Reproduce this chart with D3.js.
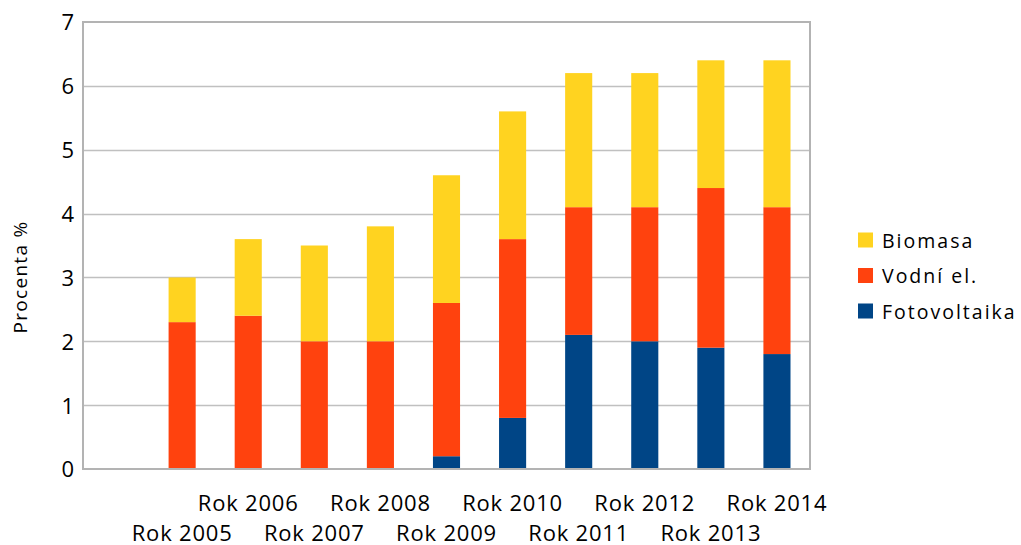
<!DOCTYPE html>
<html><head><meta charset="utf-8">
<script src="https://cdn.jsdelivr.net/npm/d3@7"></script>
<style>
html,body{margin:0;padding:0;background:#fff;}
text{font-family:"Open Sans",sans-serif;fill:#000;}
</style></head>
<body>
<svg id="c" width="1021" height="545"></svg>
<script>
const categories = ["", "Rok 2005","Rok 2006","Rok 2007","Rok 2008","Rok 2009","Rok 2010","Rok 2011","Rok 2012","Rok 2013","Rok 2014"];
const fotovoltaika = [0, 0, 0, 0, 0, 0.2, 0.8, 2.1, 2.0, 1.9, 1.8];
const vodni        = [0, 2.3, 2.4, 2.0, 2.0, 2.4, 2.8, 2.0, 2.1, 2.5, 2.3];
const biomasa      = [0, 0.7, 1.2, 1.5, 1.8, 2.0, 2.0, 2.1, 2.1, 2.0, 2.3];
const seriesNames = ["Fotovoltaika","Vodní el.","Biomasa"];
const seriesColors = ["#004586","#ff420e","#ffd320"];
const yTicks = [0,1,2,3,4,5,6,7];

const svg = d3.select("#c");
const L=83, R=810, T=22, B=469;
const x = d3.scaleBand().domain(d3.range(categories.length)).range([L,R]).paddingInner(0.59).paddingOuter(0.295);
const y = d3.scaleLinear().domain([0,7]).range([B,T]);

// gridlines
svg.append("g").selectAll("line").data(yTicks.filter(d=>d>0&&d<7)).join("line")
  .attr("x1",L).attr("x2",R).attr("y1",d=>Math.round(y(d))+0.5).attr("y2",d=>Math.round(y(d))+0.5)
  .attr("stroke","#c0c0c0").attr("stroke-width",1.5);

// stacked bars
const rows = categories.map((c,i)=>({i, "Fotovoltaika":fotovoltaika[i], "Vodní el.":vodni[i], "Biomasa":biomasa[i]}));
const stack = d3.stack().keys(seriesNames)(rows);
svg.append("g").selectAll("g").data(stack).join("g").attr("fill",(d,k)=>seriesColors[k])
  .selectAll("rect").data(d=>d.filter(p=>p[1]-p[0]>0)).join("rect")
  .attr("x",d=>x(d.data.i)).attr("width",x.bandwidth())
  .attr("y",d=>y(d[1])).attr("height",d=>y(d[0])-y(d[1]));

// frame
svg.append("rect").attr("x",L).attr("y",T).attr("width",R-L).attr("height",B-T)
  .attr("fill","none").attr("stroke","#b3b3b3").attr("stroke-width",2);

// y axis labels
const ya = svg.append("g").attr("transform",`translate(${L},0)`)
  .call(d3.axisLeft(y).tickValues(yTicks).tickSize(0).tickPadding(9).tickFormat(d3.format("d")));
ya.select(".domain").remove();
ya.selectAll("text").attr("font-size",22).attr("font-family","Open Sans").attr("fill","#000").attr("dy","0.36em");

// x axis staggered labels
const xa = svg.append("g").attr("transform",`translate(0,${B})`)
  .call(d3.axisBottom(x).tickSize(0).tickFormat(i=>categories[i]));
xa.select(".domain").remove();
xa.selectAll("text").attr("font-size",22).attr("font-family","Open Sans").attr("fill","#000")
  .attr("letter-spacing",0.8)
  .attr("dy",0).attr("y",(i)=> i%2===0 ? 42 : 71.5);

// y title
svg.append("text").attr("transform","translate(27,277) rotate(-90)")
  .attr("text-anchor","middle").attr("font-size",19).attr("letter-spacing",1.3).text("Procenta %");

// legend
const legendOrder = [2,1,0];
const lg = svg.append("g");
legendOrder.forEach((k,j)=>{
  const yy = 232.5 + j*35.5;
  lg.append("rect").attr("x",858).attr("y",yy).attr("width",15).attr("height",15).attr("fill",seriesColors[k]);
  lg.append("text").attr("x",882).attr("y",yy+15).attr("font-size",19.5).attr("letter-spacing",2).text(seriesNames[k]);
});
</script>
</body></html>
